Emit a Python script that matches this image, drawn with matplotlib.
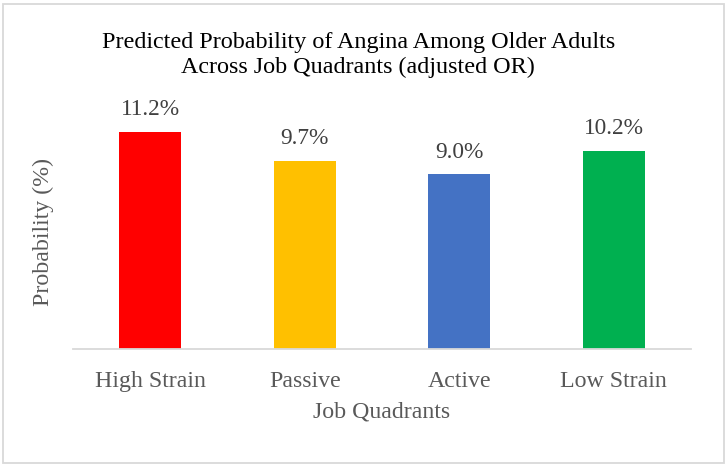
import matplotlib
matplotlib.use("Agg")
import matplotlib.pyplot as plt
from matplotlib.patches import Rectangle

categories = ["High Strain", "Passive", "Active", "Low Strain"]
values = [11.2, 9.7, 9.0, 10.2]
colors = ["#FF0000", "#FFC000", "#4472C4", "#00B050"]
title = "Predicted Probability of Angina Among Older Adults\nAcross Job Quadrants (adjusted OR)"
xlabel = "Job Quadrants"
ylabel = "Probability (%)"

plt.rcParams['font.family'] = ['Liberation Serif', 'DejaVu Serif']
txt = "#595959"

fig = plt.figure(figsize=(7.28, 4.67), dpi=100)
ax = fig.add_axes([73/728, (467-349)/467, 618/728, 233/467])

x = list(range(len(categories)))
bars = ax.bar(x, values, width=0.4, color=colors, zorder=2)
ax.set_xlim(-0.5, len(categories) - 0.5)
ax.set_ylim(0, 12)

for xi, v in zip(x, values):
    ax.annotate(f"{v:.1f}%", (xi, v), xytext=(0, 12), textcoords="offset points",
                ha="center", va="baseline", fontsize=16.8, color="#404040")

for s in ["top", "right", "left"]:
    ax.spines[s].set_visible(False)
ax.spines["bottom"].set_color("#D9D9D9")
ax.spines["bottom"].set_linewidth(1.3)
ax.set_yticks([])
ax.set_xticks(x)
ax.set_xticklabels(categories, fontsize=17.2, color=txt)
ax.tick_params(axis="x", length=0, pad=16)
ax.set_xlabel(xlabel, fontsize=17.2, color=txt, labelpad=7)
ax.set_ylabel(ylabel, fontsize=17.2, color=txt, labelpad=14)

fig.text(0.492, 1 - 55/467, title, ha="center", va="center", fontsize=17.4,
         color="#000000", linespacing=1.2)

fig.patches.append(Rectangle((3/728, 4/467), 721/728, 461/467 - 2/467, transform=fig.transFigure,
                             fill=False, edgecolor="#D9D9D9", linewidth=1.3))

fig.savefig("out.png", dpi=100)
